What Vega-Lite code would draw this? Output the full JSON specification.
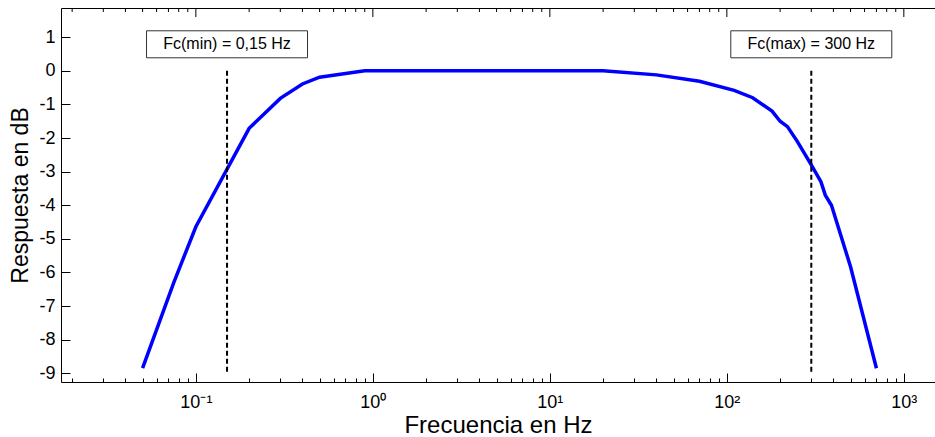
{
  "$schema": "https://vega.github.io/schema/vega-lite/v6.json",
  "width": 874,
  "height": 374,
  "autosize": {"type": "none"},
  "padding": {"left": 61, "top": 8, "right": 0, "bottom": 55},
  "background": "white",
  "config": {
    "view": {"stroke": "black", "strokeWidth": 1},
    "font": "Liberation Sans",
    "axis": {
      "domain": false,
      "grid": false,
      "tickColor": "black",
      "tickWidth": 1,
      "labelColor": "black",
      "labelFont": "Liberation Sans",
      "titleFont": "Liberation Sans",
      "titleColor": "black",
      "titleFontWeight": "normal"
    }
  },
  "datasets": {
    "curve": [
      {"f": 0.05, "db": -8.85},
      {"f": 0.075, "db": -6.3},
      {"f": 0.1, "db": -4.64},
      {"f": 0.2, "db": -1.71},
      {"f": 0.3, "db": -0.82},
      {"f": 0.4, "db": -0.39},
      {"f": 0.5, "db": -0.19},
      {"f": 0.9, "db": 0},
      {"f": 20, "db": 0},
      {"f": 40, "db": -0.12},
      {"f": 70, "db": -0.31},
      {"f": 110, "db": -0.58},
      {"f": 140, "db": -0.8},
      {"f": 180, "db": -1.2},
      {"f": 200, "db": -1.5},
      {"f": 220, "db": -1.66},
      {"f": 250, "db": -2.1},
      {"f": 300, "db": -2.8},
      {"f": 340, "db": -3.3},
      {"f": 360, "db": -3.7},
      {"f": 390, "db": -4.0},
      {"f": 500, "db": -5.83},
      {"f": 700, "db": -8.85}
    ],
    "cutoffs": [
      {"f": 0.15, "label": "Fc(min) = 0,15 Hz"},
      {"f": 300, "label": "Fc(max) = 300 Hz"}
    ],
    "majorTicks": [
      {"f": 0.1}, {"f": 1}, {"f": 10}, {"f": 100}, {"f": 1000}
    ],
    "minorTicks": [
      {"f": 0.02}, {"f": 0.03}, {"f": 0.04}, {"f": 0.05}, {"f": 0.06}, {"f": 0.07}, {"f": 0.08}, {"f": 0.09},
      {"f": 0.2}, {"f": 0.3}, {"f": 0.4}, {"f": 0.5}, {"f": 0.6}, {"f": 0.7}, {"f": 0.8}, {"f": 0.9},
      {"f": 2}, {"f": 3}, {"f": 4}, {"f": 5}, {"f": 6}, {"f": 7}, {"f": 8}, {"f": 9},
      {"f": 20}, {"f": 30}, {"f": 40}, {"f": 50}, {"f": 60}, {"f": 70}, {"f": 80}, {"f": 90},
      {"f": 200}, {"f": 300}, {"f": 400}, {"f": 500}, {"f": 600}, {"f": 700}, {"f": 800}, {"f": 900}
    ]
  },
  "resolve": {"axis": {"x": "independent", "y": "independent"}},
  "layer": [
    {
      "data": {"name": "curve"},
      "mark": {"type": "line", "color": "#0000FF", "strokeWidth": 3.5},
      "encoding": {
        "x": {
          "field": "f", "type": "quantitative",
          "scale": {"type": "log", "domain": [0.0173, 1500], "nice": false},
          "axis": {
            "orient": "bottom",
            "values": [0.1, 1, 10, 100, 1000],
            "tickSize": -9,
            "labelPadding": 20,
            "labelFontSize": 18,
            "labelExpr": "datum.value == 0.1 ? '10⁻¹' : datum.value == 1 ? '10⁰' : datum.value == 10 ? '10¹' : datum.value == 100 ? '10²' : '10³'",
            "title": "Frecuencia en Hz",
            "titleFontSize": 24,
            "titlePadding": 2
          }
        },
        "y": {
          "field": "db", "type": "quantitative",
          "scale": {"domain": [-9.26, 1.87], "nice": false, "zero": false},
          "axis": {
            "orient": "left",
            "values": [-9, -8, -7, -6, -5, -4, -3, -2, -1, 0, 1],
            "tickSize": -9,
            "labelPadding": 15,
            "labelFontSize": 18,
            "labelOverlap": false,
            "labelExpr": "'' + datum.value",
            "title": "Respuesta en dB",
            "titleFontSize": 23,
            "titlePadding": 6
          }
        }
      }
    },
    {
      "data": {"name": "cutoffs"},
      "mark": {"type": "rule", "color": "black", "strokeWidth": 2, "strokeDash": [5, 3]},
      "encoding": {
        "x": {
          "field": "f", "type": "quantitative",
          "axis": {
            "orient": "bottom",
            "values": [0.02, 0.03, 0.04, 0.05, 0.06, 0.07, 0.08, 0.09, 0.2, 0.3, 0.4, 0.5, 0.6, 0.7, 0.8, 0.9, 2, 3, 4, 5, 6, 7, 8, 9, 20, 30, 40, 50, 60, 70, 80, 90, 200, 300, 400, 500, 600, 700, 800, 900],
            "tickSize": -4,
            "labels": false,
            "title": null
          }
        },
        "y": {"datum": 0, "type": "quantitative", "axis": null},
        "y2": {"datum": -9}
      }
    },
    {
      "data": {"name": "cutoffs"},
      "mark": {"type": "rect", "width": 161, "height": 27, "fill": "white", "stroke": "#333333", "strokeWidth": 1},
      "encoding": {
        "x": {"field": "f", "type": "quantitative", "axis": null},
        "y": {"datum": 0.79, "type": "quantitative", "axis": null}
      }
    },
    {
      "data": {"name": "cutoffs"},
      "mark": {"type": "text", "fontSize": 16, "font": "Liberation Sans", "color": "black", "align": "center", "baseline": "middle"},
      "encoding": {
        "x": {"field": "f", "type": "quantitative", "axis": null},
        "y": {"datum": 0.79, "type": "quantitative", "axis": null},
        "text": {"field": "label", "type": "nominal"}
      }
    },
    {
      "data": {"name": "majorTicks"},
      "mark": {"type": "tick", "orient": "vertical", "size": 18, "thickness": 1, "color": "black", "opacity": 1, "clip": true},
      "encoding": {
        "x": {"field": "f", "type": "quantitative", "axis": null},
        "y": {"datum": 1.87, "type": "quantitative", "axis": null}
      }
    },
    {
      "data": {"name": "minorTicks"},
      "mark": {"type": "tick", "orient": "vertical", "size": 8, "thickness": 1, "color": "black", "opacity": 1, "clip": true},
      "encoding": {
        "x": {"field": "f", "type": "quantitative", "axis": null},
        "y": {"datum": 1.87, "type": "quantitative", "axis": null}
      }
    }
  ]
}
